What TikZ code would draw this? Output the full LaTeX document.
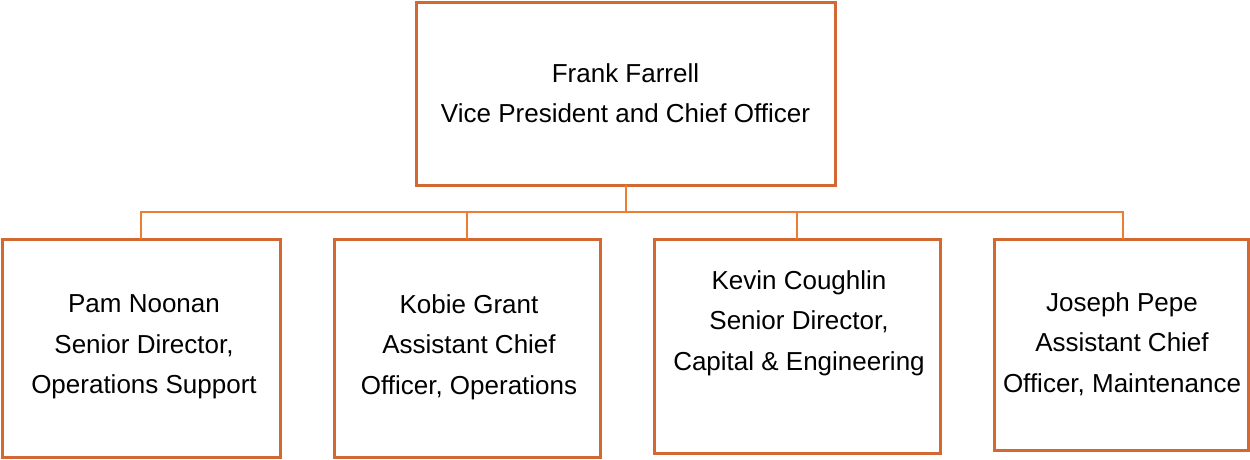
\documentclass[tikz,border=0pt]{standalone}
\usepackage{fontspec}
\setmainfont{Liberation Sans}
\definecolor{boxc}{RGB}{212,104,50}
\definecolor{linec}{RGB}{237,125,49}
\begin{document}
\begin{tikzpicture}[x=1pt,y=-1pt,
  orgbox/.style={draw=boxc,line width=3pt,fill=white},
  conn/.style={draw=linec,line width=1.4pt},
  lbl/.style={align=center,font=\fontsize{26}{40.5}\selectfont,inner sep=0pt}]
\useasboundingbox[fill=white] (0,0) rectangle (1250,459);
% boxes
\draw[orgbox] (416,2) rectangle (835,185);
\draw[orgbox] (2,239) rectangle (280,457);
\draw[orgbox] (334,239) rectangle (600,457);
\draw[orgbox] (654,239) rectangle (940,453);
\draw[orgbox] (994,239) rectangle (1248,450);
% anchor coordinates
\coordinate (top) at (626,185);
\coordinate (bus) at (626,212);
\coordinate (c1) at (141,239);
\coordinate (c2) at (467,239);
\coordinate (c3) at (797,239);
\coordinate (c4) at (1123,239);
\draw[conn] (top) -- (bus);
\draw[conn] (c1) |- (bus) -| (c4);
\draw[conn] (c2) -- (c2 |- bus);
\draw[conn] (c3) -- (c3 |- bus);
% labels
\node[lbl] (t0) at (625.5,93) {Frank Farrell\\Vice President and Chief Officer};
\node[lbl] (t1) at (144,347) {Pam Noonan\\Senior Director,\\Operations Support};
\node[lbl] (t2) at (469,347) {Kobie Grant\\Assistant Chief\\Officer, Operations};
\node[lbl] (t3) at (799,323) {Kevin Coughlin\\Senior Director,\\Capital \& Engineering};
\node[lbl] (t4) at (1122,344) {Joseph Pepe\\Assistant Chief\\Officer, Maintenance};
\end{tikzpicture}
\end{document}
